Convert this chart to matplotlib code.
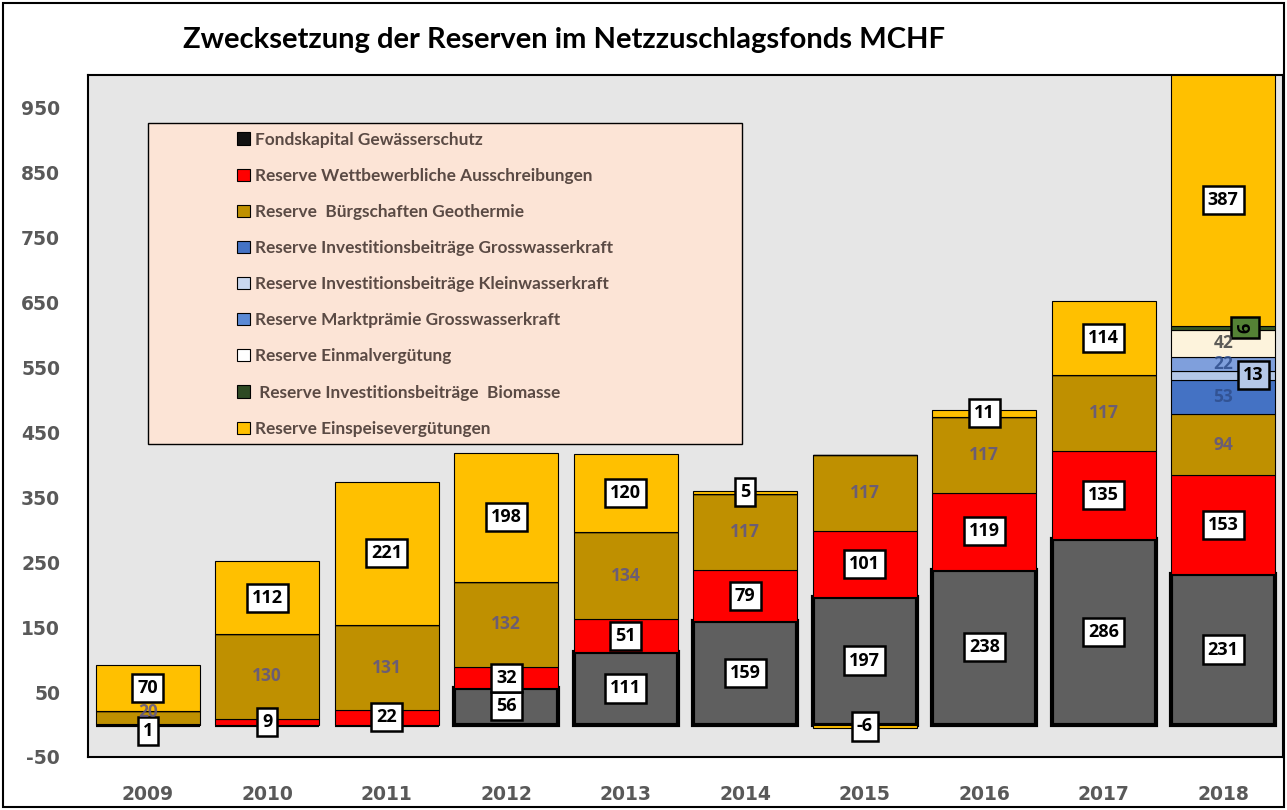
import matplotlib
matplotlib.use("Agg")
import matplotlib.pyplot as plt
from matplotlib.patches import Patch, Rectangle
import numpy as np

plt.rcParams["axes.unicode_minus"] = False

# Daten (MCHF)
jahre = ["2009", "2010", "2011", "2012", "2013", "2014", "2015", "2016", "2017", "2018"]
fondskapital = [0, 0, 0, 56, 111, 159, 197, 238, 286, 231]
wettbewerb = [1, 9, 22, 32, 51, 79, 101, 119, 135, 153]
geothermie = [20, 130, 131, 132, 134, 117, 117, 117, 117, 94]
invest_gross = [0, 0, 0, 0, 0, 0, 0, 0, 0, 53]
invest_klein = [0, 0, 0, 0, 0, 0, 0, 0, 0, 13]
marktpraemie = [0, 0, 0, 0, 0, 0, 0, 0, 0, 22]
einmal = [0, 0, 0, 0, 0, 0, 0, 0, 0, 42]
biomasse = [0, 0, 0, 0, 0, 0, 0, 0, 0, 6]
einspeise = [70, 112, 221, 198, 120, 5, -6, 11, 114, 387]

namen = [
    "Fondskapital Gewässerschutz",
    "Reserve Wettbewerbliche Ausschreibungen",
    "Reserve  Bürgschaften Geothermie",
    "Reserve Investitionsbeiträge Grosswasserkraft",
    "Reserve Investitionsbeiträge Kleinwasserkraft",
    "Reserve Marktprämie Grosswasserkraft",
    "Reserve Einmalvergütung",
    " Reserve Investitionsbeiträge  Biomasse",
    "Reserve Einspeisevergütungen",
]

# (werte, farbe, randbreite, label-stil, label-farbe/box, x-versatz px, rotation)
serien = [
    (fondskapital, "#5f5f5f", 3.0, "box", "white", 0, 0),
    (wettbewerb, "#ff0000", 0.8, "box", "white", 0, 0),
    (geothermie, "#bf9000", 0.8, "text", "#5c5489", 0, 0),
    (invest_gross, "#4472c4", 0.8, "text", "#2f4e8c", 0, 0),
    (invest_klein, "#b4c7e7", 0.8, "box", "#b4c7e7", 30, 0),
    (marktpraemie, "#7f9fdc", 0.8, "text", "#2f4e8c", 0, 0),
    (einmal, "#fdf3dc", 0.8, "text", "#404040", 0, 0),
    (biomasse, "#375623", 0.8, "box", "#548235", 22, 90),
    (einspeise, "#ffc000", 0.8, "box", "white", 0, 0),
]
legend_farben = ["#111111", "#ff0000", "#bf9000", "#4472c4", "#c9d7ef",
                 "#5b8ad6", "#ffffff", "#2e4a24", "#ffc000"]

W, H = 1287, 810
fig = plt.figure(figsize=(W / 100, H / 100), dpi=100)
fig.patches.append(Rectangle((3 / W, 3 / H), 1 - 6 / W, 1 - 6 / H, transform=fig.transFigure,
                             fill=False, edgecolor="black", linewidth=1.5))

ax = fig.add_axes([88 / W, 1 - 757 / H, (1283 - 88) / W, (757 - 75) / H])
ax.set_facecolor("#e6e6e6")

x = np.arange(len(jahre))
breite = 0.87
pos_boden = np.zeros(len(jahre))
neg_boden = np.zeros(len(jahre))

for werte, farbe, lw, stil, lfarbe, dx, rot in serien:
    werte = np.array(werte, dtype=float)
    boden = np.where(werte >= 0, pos_boden, neg_boden)
    ax.bar(x, werte, breite, bottom=boden, color=farbe, edgecolor="black",
           linewidth=lw, zorder=2)
    for i, v in enumerate(werte):
        if v == 0:
            continue
        ym = boden[i] + v / 2
        # 2009: kleine Werte liegen im Original leicht versetzt
        if i == 0 and v == 1:
            ym -= 11
        if i == 0 and v == 20:
            ym += 8
        xm = x[i] + dx / 119.5
        if stil == "box":
            ax.text(xm, ym, f"{v:.0f}", ha="center", va="center", fontsize=13,
                    fontweight="bold", family="Open Sans", color="black", rotation=rot,
                    zorder=5,
                    bbox=dict(boxstyle="square,pad=0.28", facecolor=lfarbe,
                              edgecolor="black", linewidth=1.8))
        else:
            ax.text(xm, ym, f"{v:.0f}", ha="center", va="center", fontsize=12.5,
                    fontweight="bold", family="Open Sans", color=lfarbe, alpha=0.85,
                    zorder=6)
    pos_boden = np.where(werte >= 0, pos_boden + werte, pos_boden)
    neg_boden = np.where(werte < 0, neg_boden + werte, neg_boden)

ax.set_xlim(-0.5, len(jahre) - 0.5)
ax.set_ylim(-50, 1000)
ax.set_yticks(np.arange(-50, 1000, 100))
ax.set_xticks(x)
ax.set_xticklabels(jahre)
ax.tick_params(length=0)
ax.tick_params(axis="y", pad=20)
ax.tick_params(axis="x", pad=20)
for lab in ax.get_yticklabels() + ax.get_xticklabels():
    lab.set_fontsize(13.5)
    lab.set_fontweight("bold")
    lab.set_color("#595959")
for s in ax.spines.values():
    s.set_color("black")
    s.set_linewidth(1.5)
    s.set_zorder(7)

# Legende
ax.add_patch(Rectangle((0.0502, 0.459), 0.4968, 0.4706, transform=ax.transAxes,
                       facecolor="#fce4d6", edgecolor="black", linewidth=1.0, zorder=3))
handles = [Patch(facecolor=c, edgecolor="black", linewidth=0.8) for c in legend_farben]
leg = ax.legend(handles, namen, loc="upper left", bbox_to_anchor=(222 / W, 1 - 116 / H),
                bbox_transform=fig.transFigure, frameon=False,
                handlelength=0.7, handleheight=0.7, handletextpad=0.3,
                labelspacing=1.17, prop={"family": "Lato", "weight": "bold", "size": 12.4})
leg.set_zorder(8)
for t in leg.get_texts():
    t.set_color("#5a4a44")

fig.text(183 / W, 1 - 40 / H, "Zwecksetzung der Reserven im Netzzuschlagsfonds MCHF",
         ha="left", va="center", fontsize=21, fontweight="bold", family="Lato", color="black")

fig.savefig("out.png", dpi=100)
